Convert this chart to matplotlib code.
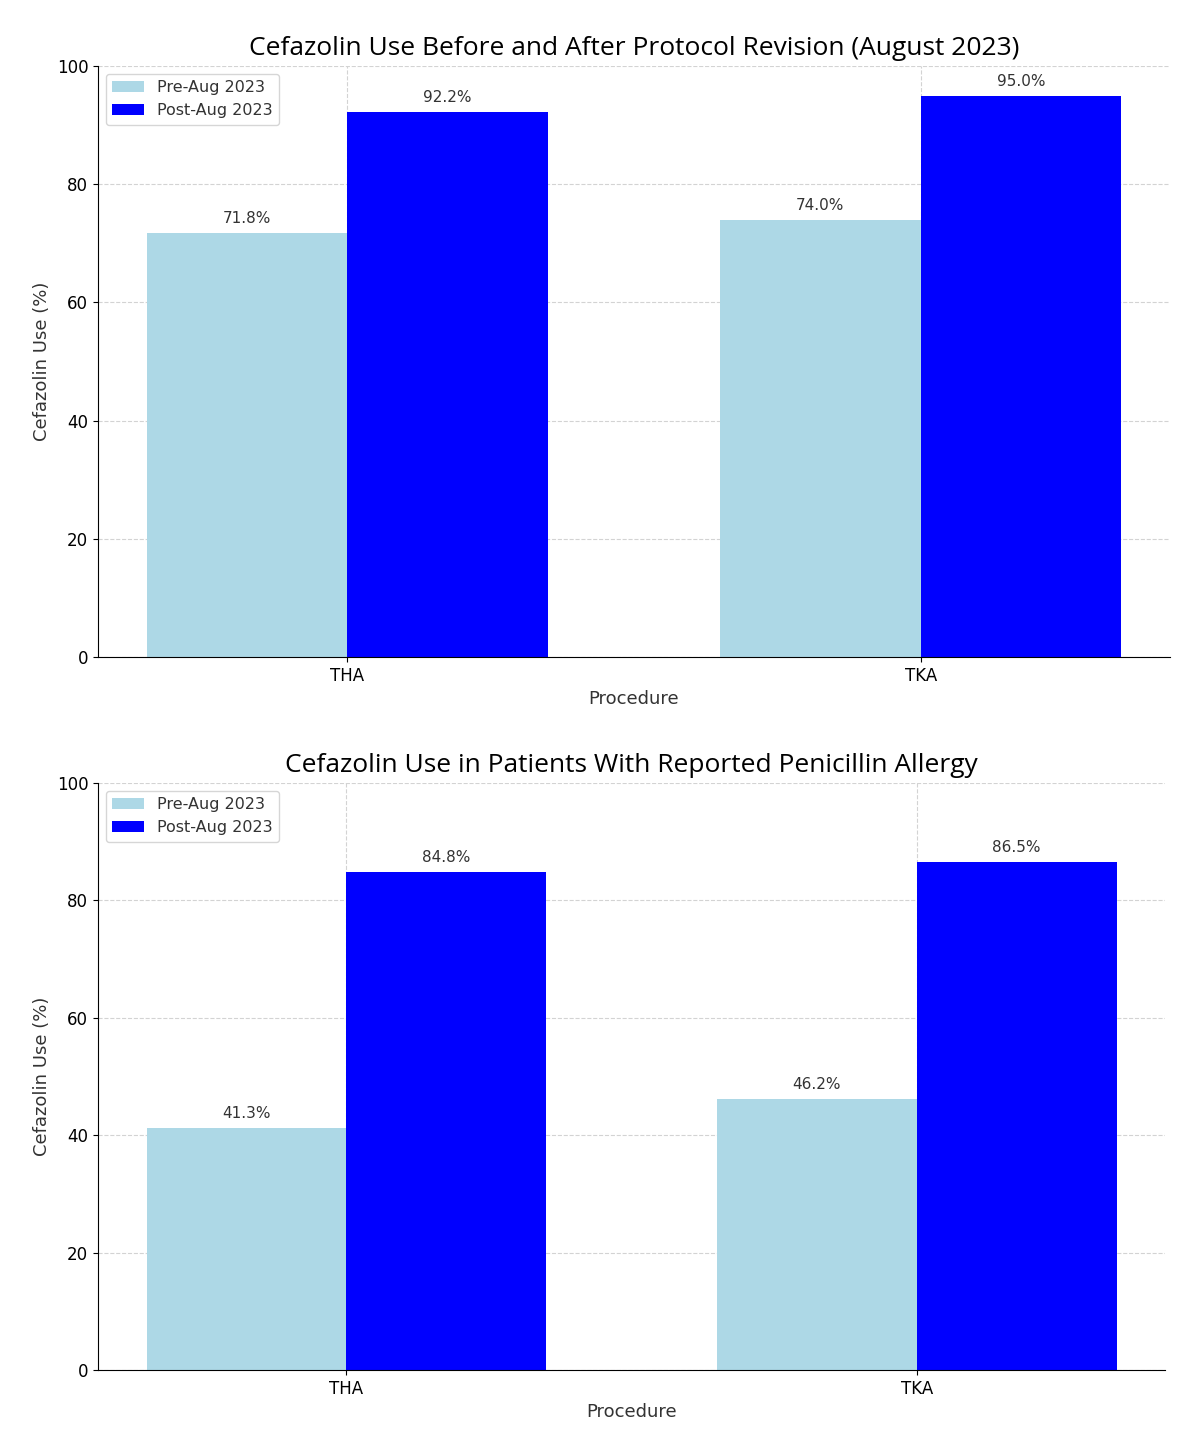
import matplotlib
matplotlib.use("Agg")
import matplotlib.pyplot as plt
import numpy as np

procedures = ["THA", "TKA"]
pre_overall = [71.8, 74.0]
post_overall = [92.2, 95.0]
pre_allergy = [41.3, 46.2]
post_allergy = [84.8, 86.5]
titles = ["Cefazolin Use Before and After Protocol Revision (August 2023)",
          "Cefazolin Use in Patients With Reported Penicillin Allergy"]

fig = plt.figure(figsize=(12, 14.5), dpi=100)
ax1 = fig.add_axes([98 / 1200, 1 - 657 / 1450, 1072 / 1200, 591 / 1450])
ax2 = fig.add_axes([98 / 1200, 1 - 1370 / 1450, 1067 / 1200, 587 / 1450])

x = np.arange(len(procedures))
w = 0.35
for ax, pre, post, title in [(ax1, pre_overall, post_overall, titles[0]),
                             (ax2, pre_allergy, post_allergy, titles[1])]:
    b1 = ax.bar(x - w / 2, pre, w, color="lightblue", label="Pre-Aug 2023", zorder=2)
    b2 = ax.bar(x + w / 2, post, w, color="blue", label="Post-Aug 2023", zorder=2)
    for bars in (b1, b2):
        for b in bars:
            ax.annotate(f"{b.get_height():.1f}%", (b.get_x() + b.get_width() / 2, b.get_height()),
                        xytext=(0, 5), textcoords="offset points", ha="center", va="bottom",
                        fontsize=11, color="#333333")
    ax.set_ylim(0, 100)
    ax.set_xticks(x)
    ax.set_xticklabels(procedures)
    ax.tick_params(labelsize=12)
    ax.set_xlabel("Procedure", fontsize=13, color="#333333")
    ax.set_ylabel("Cefazolin Use (%)", fontsize=13, color="#333333")
    ax.grid(True, linestyle="--", color="lightgrey", linewidth=0.8, zorder=0)
    ax.spines["top"].set_visible(False)
    ax.spines["right"].set_visible(False)
    ax.legend(loc="upper left", fontsize=11.5, labelcolor="#333333")
    ax.set_title(title, fontsize=19, family="Open Sans", pad=8)

fig.savefig("out.png", dpi=100)
